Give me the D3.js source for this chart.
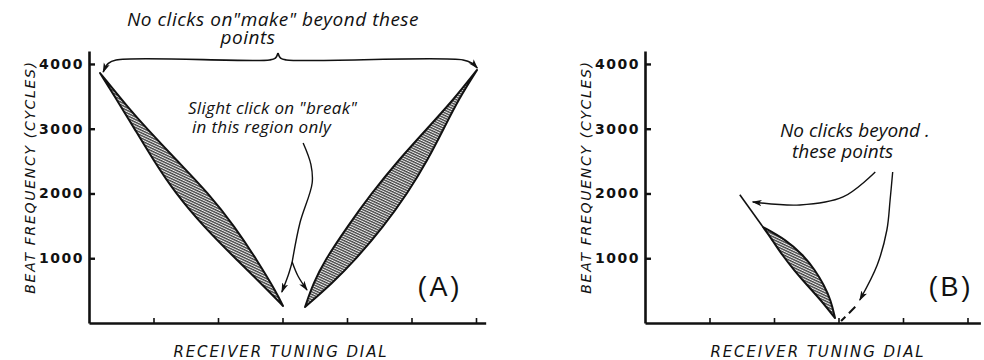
<!DOCTYPE html>
<html><head><meta charset="utf-8">
<script src="https://cdn.jsdelivr.net/npm/d3@7"></script>
<style>
html,body{margin:0;padding:0;background:#fff;}
svg{display:block;}
.note{font-family:"Open Sans",sans-serif;font-style:italic;fill:#111;}
.cap{font-family:"DejaVu Sans",sans-serif;font-style:oblique;fill:#111;}
.tick text{font-family:"DejaVu Sans",sans-serif;font-weight:bold;font-size:14px;letter-spacing:1.5px;fill:#111;}
.panel{font-family:"Liberation Sans",sans-serif;font-size:27px;fill:#111;}
</style>
</head><body>
<script>
// ---------- data ----------
const yTicks = [1000, 2000, 3000, 4000];
const xTicksA = [1, 2, 3, 4, 5, 6];
const xTicksB = [1, 2, 3, 4, 5];
const yLabel = "BEAT FREQUENCY (CYCLES)";
const xLabel = "RECEIVER TUNING DIAL";

// Panel A, left lens: beat frequency levels and the two dial-position edges
const lensA1Y  = [3860, 3289, 3027, 2517, 2007, 1482, 973, 463, 262];
const lensA1Lo = [0.171, 0.528, 0.688, 0.997, 1.336, 1.783, 2.293, 2.818, 3.008];
const lensA1Hi = [0.171, 0.637, 0.874, 1.354, 1.848, 2.264, 2.603, 2.912, 3.008];
// Panel A, right lens
const lensA2Y  = [247, 618, 973, 1482, 2007, 2517, 3027, 3443, 3907];
const lensA2Lo = [3.349, 3.478, 3.660, 4.001, 4.383, 4.800, 5.265, 5.647, 6.016];
const lensA2Hi = [3.349, 3.774, 4.126, 4.560, 4.941, 5.251, 5.513, 5.724, 6.016];
// Panel B, tail line + lens
const tailBX = [1.47, 1.829];
const tailBY = [1980, 1482];
const lensBY  = [1482, 1282, 1050, 818, 587, 355, 77];
const lensBLo = [1.829, 1.974, 2.126, 2.310, 2.510, 2.725, 2.946];
const lensBHi = [1.829, 2.191, 2.451, 2.636, 2.774, 2.881, 2.946];

// annotation paths (data units)
const braceLeftX  = [0.22, 0.30, 0.42, 2.80, 2.89, 2.93];
const braceLeftY  = [3876, 4010, 4062, 4062, 4090, 4170];
const braceRightX = [2.93, 2.97, 3.06, 5.80, 5.94, 6.02];
const braceRightY = [4170, 4090, 4062, 4062, 4010, 3938];
const breakStemX = [3.32, 3.44, 3.46, 3.27, 3.15];
const breakStemY = [2780, 2450, 2162, 1544, 942];
const breakLeftX = [3.15, 3.09, 2.99];
const breakLeftY = [942, 741, 479];
const breakRightX = [3.15, 3.24, 3.38];
const breakRightY = [942, 726, 510];
const arrowB1X = [3.57, 3.07, 2.40, 1.67];
const arrowB1Y = [2332, 1946, 1822, 1869];
const arrowB2X = [3.84, 3.80, 3.75, 3.60, 3.33];
const arrowB2Y = [2332, 1900, 1436, 896, 355];
const dashB2X = [3.26, 3.04];
const dashB2Y = [250, 30];

// annotation texts
const noteTopA = ['No clicks on"make" beyond these', "points"];
const noteBreakA = ['Slight click on "break"', "in this region only"];
const noteB = ["No clicks beyond .", "these points"];

// ---------- drawing ----------
const W = 984, H = 360;
const svg = d3.select("body").append("svg").attr("width", W).attr("height", H);
const defs = svg.append("defs");
const pat = defs.append("pattern").attr("id", "hatch").attr("patternUnits", "userSpaceOnUse")
  .attr("width", 6).attr("height", 2.4).attr("patternTransform", "rotate(25)");
pat.append("rect").attr("width", 6).attr("height", 2.4).attr("fill", "#eeeeee");
pat.append("line").attr("x1", 0).attr("x2", 6).attr("y1", 0.7).attr("y2", 0.7)
  .attr("stroke", "#2a2a2a").attr("stroke-width", 1.2);
defs.append("marker").attr("id", "arr").attr("viewBox", "0 -4 10 8")
  .attr("refX", 9).attr("refY", 0).attr("markerWidth", 10).attr("markerHeight", 8)
  .attr("markerUnits", "userSpaceOnUse").attr("orient", "auto")
  .append("path").attr("d", "M0,-3.2L10,0L0,3.2L2.5,0Z").attr("fill", "#111");

const yA = d3.scaleLinear().domain([0, 4200]).range([323, 51]);

function panel(x0, xMax, xTicks) {
  const x = d3.scaleLinear().domain([0, xMax]).range([x0, x0 + xMax * 64.5]);
  const y = yA;
  const g = svg.append("g");
  const ax = g.append("g").attr("transform", `translate(${x0},0)`)
    .call(d3.axisLeft(y).tickValues(yTicks).tickSizeInner(-6).tickSizeOuter(0).tickPadding(5).tickFormat(d3.format("d")));
  ax.select(".domain").attr("stroke", "#111").attr("stroke-width", 2.6);
  ax.selectAll(".tick line").attr("stroke", "#111").attr("stroke-width", 2.4);
  const bx = g.append("g").attr("transform", `translate(0,${y(0)})`)
    .call(d3.axisBottom(x).tickValues(xTicks).tickSizeInner(-5).tickSizeOuter(0).tickFormat(""));
  bx.select(".domain").attr("stroke", "#111").attr("stroke-width", 2.6);
  bx.selectAll(".tick line").attr("stroke", "#111").attr("stroke-width", 1.6);
  return {x, y, g};
}

function lens(p, ys, lo, hi) {
  const ln = d3.line().x(d => p.x(d[0])).y(d => p.y(d[1])).curve(d3.curveBasis);
  const a = ys.map((v, i) => [lo[i], v]);
  const b = ys.map((v, i) => [hi[i], v]).reverse();
  const d = ln(a) + "L" + ln(b).slice(1) + "Z";
  p.g.append("path").attr("d", d).attr("fill", "url(#hatch)")
    .attr("stroke", "#111").attr("stroke-width", 2).attr("stroke-linejoin", "round");
}

function curve(p, xs, ys, arrow, dash, sw) {
  const ln = d3.line().x(d => p.x(d[0])).y(d => p.y(d[1])).curve(d3.curveCatmullRom.alpha(0.5));
  const path = p.g.append("path").attr("d", ln(xs.map((v, i) => [v, ys[i]])))
    .attr("fill", "none").attr("stroke", "#111").attr("stroke-width", sw || 1.5);
  if (arrow) path.attr("marker-end", "url(#arr)");
  if (dash) path.attr("stroke-dasharray", dash);
}

function axisTitles(p, xCenter, yLabX) {
  p.g.append("text").attr("class", "cap")
    .attr("transform", `translate(${yLabX},177) rotate(-90)`)
    .attr("text-anchor", "middle").attr("font-size", 14).attr("letter-spacing", 1.7).text(yLabel);
  p.g.append("text").attr("class", "cap").attr("x", xCenter).attr("y", 357)
    .attr("text-anchor", "middle").attr("font-size", 15).attr("letter-spacing", 1.9).text(xLabel);
}

// multi-line note as one text element
function note(p, lines, xs, y0, dy, size, anchor, ls) {
  const t = p.g.append("text").attr("class", "note").attr("font-size", size)
    .attr("text-anchor", anchor).attr("letter-spacing", ls);
  lines.forEach((s, i) => {
    t.append("tspan").attr("x", xs[i]).attr("y", y0 + i * dy).text(s);
  });
}

// Panel A
const A = panel(89, 6.15, xTicksA);
lens(A, lensA1Y, lensA1Lo, lensA1Hi);
lens(A, lensA2Y, lensA2Lo, lensA2Hi);
curve(A, braceLeftX.slice().reverse(), braceLeftY.slice().reverse(), true, null, 1.6);
curve(A, braceRightX, braceRightY, true, null, 1.6);
curve(A, breakStemX, breakStemY, false, null, 1.4);
curve(A, breakLeftX, breakLeftY, true, null, 1.4);
curve(A, breakRightX, breakRightY, true, null, 1.4);
axisTitles(A, 281, 35);
note(A, noteTopA, [273, 248], 26, 18, 19, "middle", 0.5);
note(A, noteBreakA, [188, 192], 114, 19, 17, "start", 0.3);
A.g.append("text").attr("class", "panel").attr("x", 440).attr("y", 296).attr("text-anchor", "middle")
  .attr("letter-spacing", 3).text("(A)");

// Panel B
const B = panel(645, 5.2, xTicksB);
curve(B, tailBX, tailBY, false, null, 1.6);
lens(B, lensBY, lensBLo, lensBHi);
curve(B, arrowB1X, arrowB1Y, true, null, 1.4);
curve(B, arrowB2X, arrowB2Y, true, null, 1.4);
curve(B, dashB2X, dashB2Y, false, "9,5", 2);
axisTitles(B, 818, 591);
note(B, noteB, [780, 792], 137, 21, 19, "start", 0);
B.g.append("text").attr("class", "panel").attr("x", 951).attr("y", 296).attr("text-anchor", "middle")
  .attr("letter-spacing", 3).text("(B)");
</script>
</body></html>
